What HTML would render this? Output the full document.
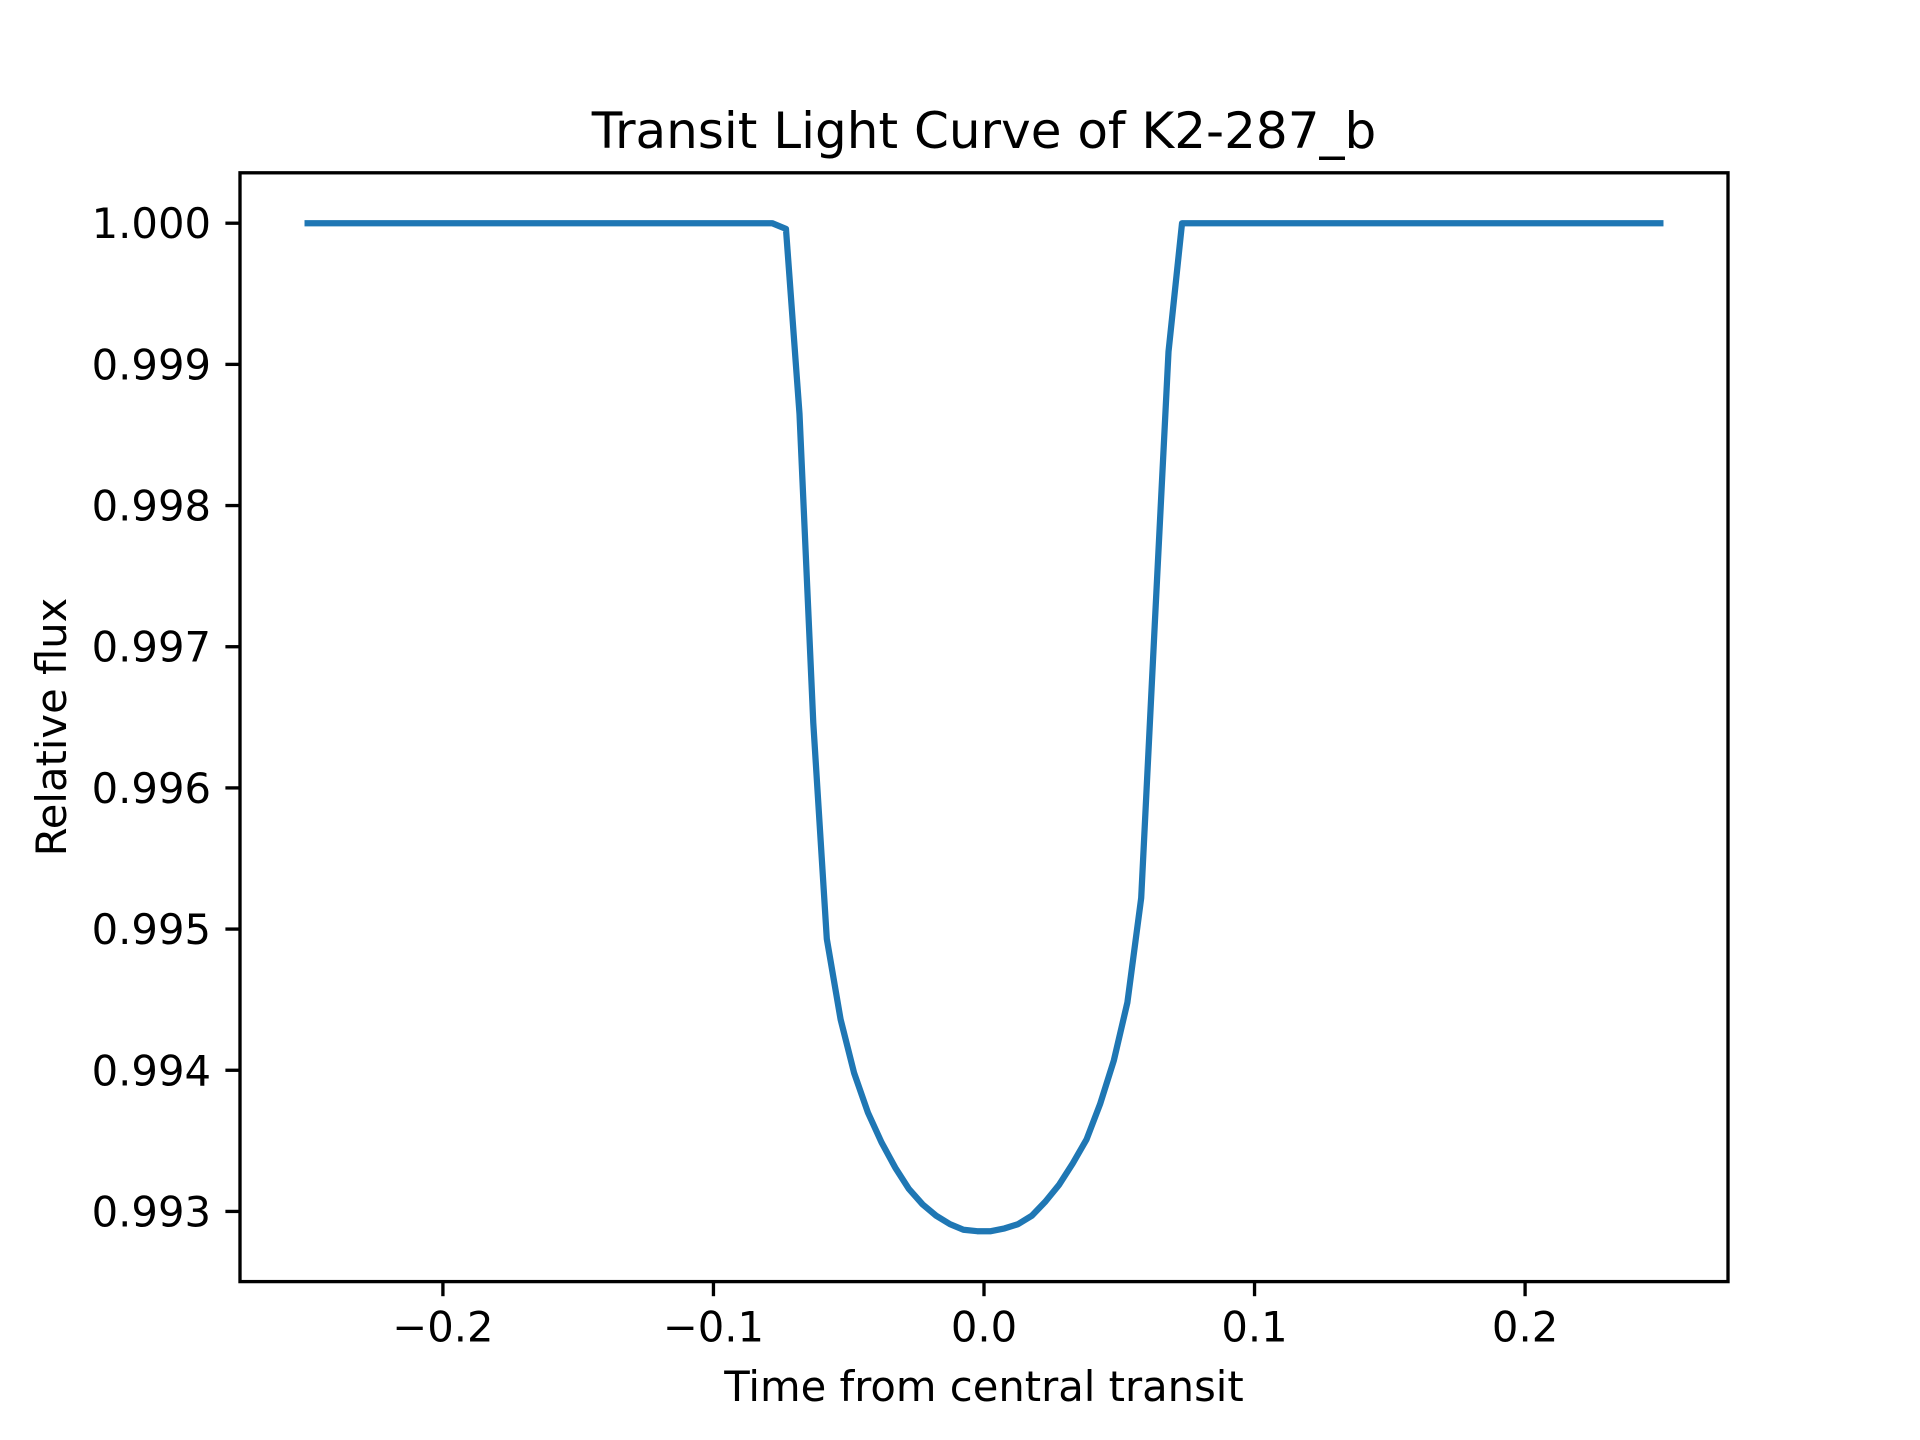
<!DOCTYPE html>
<html><head><meta charset="utf-8"><style>
html,body{margin:0;padding:0;background:#fff;}
svg{display:block;font-family:"DejaVu Sans","Liberation Sans",sans-serif;}
</style></head><body>
<svg id="chart" width="1920" height="1440" viewBox="0 0 1920 1440" xmlns="http://www.w3.org/2000/svg">
<rect width="1920" height="1440" fill="#fff"/>
<text x="984" y="148" font-size="50" text-anchor="middle">Transit Light Curve of K2-287_b</text>
<g id="ticks"></g>
<path id="series" fill="none" stroke="#1f77b4" stroke-width="6.25" stroke-linejoin="round" stroke-linecap="square"/>
<rect x="240" y="172.8" width="1488" height="1108.8" fill="none" stroke="#000" stroke-width="3.33"/>
<text x="984" y="1401" font-size="41.7" text-anchor="middle">Time from central transit</text>
<text x="0" y="0" font-size="41.7" text-anchor="middle" transform="translate(66,727) rotate(-90)">Relative flux</text>
</svg>
<script>
const times = [-0.25, -0.0783, -0.0732, -0.0682, -0.0631, -0.0581, -0.0530, -0.0480, -0.0429, -0.0379, -0.0328, -0.0278, -0.0227, -0.0177, -0.0126, -0.0076, -0.0025, 0.0025, 0.0076, 0.0126, 0.0177, 0.0227, 0.0278, 0.0328, 0.0379, 0.0429, 0.0480, 0.0530, 0.0581, 0.0631, 0.0682, 0.0732, 0.25];
const flux = [1.0, 1.0, 0.99996, 0.99865, 0.99646, 0.99493, 0.99436, 0.99398, 0.99370, 0.99349, 0.99331, 0.99316, 0.99305, 0.99297, 0.99291, 0.99287, 0.99286, 0.99286, 0.99288, 0.99291, 0.99297, 0.99307, 0.99319, 0.99334, 0.99351, 0.99376, 0.99407, 0.99448, 0.99522, 0.99715, 0.99909, 1.0, 1.0];
const xTicks = [-0.2, -0.1, 0.0, 0.1, 0.2];
const xTickLabels = ["\u22120.2", "\u22120.1", "0.0", "0.1", "0.2"];
const yTicks = [0.993, 0.994, 0.995, 0.996, 0.997, 0.998, 0.999, 1.000];
const yTickLabels = ["0.993", "0.994", "0.995", "0.996", "0.997", "0.998", "0.999", "1.000"];

const L=240,R=1728,T=172.8,B=1281.6;
const xmin=-0.275,xmax=0.275;
const fmin=Math.min(...flux),fmax=Math.max(...flux),pad=(fmax-fmin)*0.05;
const ymin=fmin-pad,ymax=fmax+pad;
const sx=v=>L+(v-xmin)/(xmax-xmin)*(R-L);
const sy=v=>B-(v-ymin)/(ymax-ymin)*(B-T);
const NS="http://www.w3.org/2000/svg";
const g=document.getElementById('ticks');
function mk(tag,attrs){const e=document.createElementNS(NS,tag);for(const k in attrs)e.setAttribute(k,attrs[k]);g.appendChild(e);return e;}
xTicks.forEach((v,i)=>{
  const x=sx(v);
  const t=mk('line',{x1:x,x2:x,y1:B,y2:B+14.6,stroke:'#000','stroke-width':3.33});
  
  
  const l=mk('text',{x:x,y:B+60,'font-size':41.7,'text-anchor':'middle'});
  
  
  l.textContent=xTickLabels[i];
});
yTicks.forEach((v,i)=>{
  const y=sy(v);
  const t=mk('line',{x1:L-14.6,x2:L,y1:y,y2:y,stroke:'#000','stroke-width':3.33});
  
  
  const l=mk('text',{x:L-29,y:y+15,'font-size':41.7,'text-anchor':'end'});
  
  
  l.textContent=yTickLabels[i];
});
document.getElementById('series').setAttribute('d',times.map((t,i)=>(i?'L':'M')+sx(t).toFixed(2)+','+sy(flux[i]).toFixed(2)).join(' '));
</script>
</body></html>
